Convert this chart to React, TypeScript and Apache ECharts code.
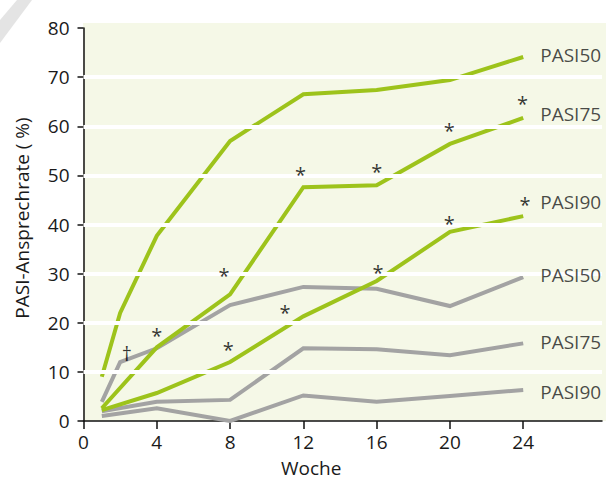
import React, { useEffect, useRef } from "react";
import * as echarts from "echarts";

// ---- data ----
const weekTicks = [0, 4, 8, 12, 16, 20, 24];
const yTicks = [0, 10, 20, 30, 40, 50, 60, 70, 80];
const whiteLines = [10, 20, 30, 40, 50, 60, 70];

const wGreen50 = [1, 2, 4, 8, 12, 16, 20, 24];
const vGreen50 = [9, 22, 37.7, 57, 66.5, 67.4, 69.4, 74.1];

const wGreen75 = [1, 4, 8, 12, 16, 20, 24];
const vGreen75 = [2.6, 15, 25.8, 47.6, 48, 56.4, 61.7];

const wGreen90 = [1, 4, 8, 12, 16, 20, 24];
const vGreen90 = [2.2, 5.7, 12, 21.3, 28.5, 38.5, 41.7];

const wGrey50 = [1, 2, 4, 8, 12, 16, 20, 24];
const vGrey50 = [3.9, 12, 14.8, 23.6, 27.3, 26.9, 23.4, 29.3];

const wGrey75 = [1, 4, 8, 12, 16, 20, 24];
const vGrey75 = [2, 3.9, 4.3, 14.8, 14.6, 13.4, 15.8];

const wGrey90 = [1, 4, 8, 12, 16, 20, 24];
const vGrey90 = [1, 2.6, 0, 5.2, 3.9, 5.1, 6.3];

// significance markers: [week, value, symbol]
const markX = [4.0, 2.36, 7.67, 7.9, 11.0, 11.85, 16.0, 16.07, 19.96, 19.96, 23.96, 24.1];
const markY = [18.3, 14.6, 30.4, 15.3, 22.9, 50.9, 51.7, 31.1, 60.05, 41.1, 65.5, 44.8];
const markT = ["*", "†", "*", "*", "*", "*", "*", "*", "*", "*", "*", "*"];

// series end labels
const labelNames = ["PASI50", "PASI75", "PASI90", "PASI50", "PASI75", "PASI90"];
const labelX = [24.9, 24.9, 24.9, 24.9, 24.9, 24.9];
const labelY = [74.5, 62.5, 44.5, 29.7, 16.0, 6.0];

const GREEN = "#9dc31b";
const GREY = "#a3a3a3";
const BG = "#f5f8e7";
const TXT = "#1a1a1a";
const FONT = "'Open Sans', 'Noto Sans', sans-serif";

const zip = (a: number[], b: number[]) => a.map((x, i) => [x, b[i]]);

export default function App() {
  const ref = useRef<HTMLDivElement>(null);
  useEffect(() => {
    if (!ref.current) return;
    const chart = echarts.init(ref.current, undefined, { renderer: "svg" });
    const gridLeft = 83.5;
    const gridTop = 28;
    const gridRight = 9;
    const gridBottom = 62;

    const lineSeries = (name: string, w: number[], v: number[], color: string) => ({
      type: "line",
      name,
      data: zip(w, v),
      symbol: "none",
      lineStyle: { color, width: 4, cap: "butt", join: "miter" },
      itemStyle: { color },
      silent: true,
      z: color === GREEN ? 4 : 3,
    });

    chart.setOption({
      animation: false,
      textStyle: { fontFamily: FONT },
      graphic: [
        {
          type: "polygon",
          z: -20,
          shape: { points: [[0, 20], [17, 0], [32, 0], [0, 43]] },
          style: { fill: "#e4e4e4" },
        },
        {
          type: "rect",
          z: -10,
          shape: { x: 83, y: 23, width: 523, height: 398 },
          style: { fill: BG },
        },
      ],
      grid: { left: gridLeft, top: gridTop, right: gridRight, bottom: gridBottom },
      xAxis: {
        type: "value",
        min: 0,
        max: 28.3,
        interval: 4,
        name: "Woche",
        nameLocation: "middle",
        nameGap: 37,
        nameTextStyle: { fontSize: 19, color: TXT, fontFamily: FONT, padding: [0, 63, 0, 0] },
        splitLine: { show: false },
        axisLine: { lineStyle: { color: "#111", width: 1.5 } },
        axisTick: { length: 8, customValues: weekTicks, lineStyle: { color: "#111", width: 1.5 } },
        axisLabel: { customValues: weekTicks, fontSize: 19, color: TXT, margin: 11, fontFamily: FONT },
      },
      yAxis: {
        type: "value",
        min: 0,
        max: 80,
        interval: 10,
        name: "PASI-Ansprechrate ( %)",
        nameLocation: "middle",
        nameGap: 52,
        nameTextStyle: { fontSize: 19, color: TXT, fontFamily: FONT, padding: [0, 0, 0, 13] },
        splitLine: { show: false },
        axisLine: { show: true, lineStyle: { color: "#111", width: 1.5 } },
        axisTick: { show: true, length: 6, customValues: yTicks, lineStyle: { color: "#111", width: 1.5 } },
        axisLabel: { customValues: yTicks, fontSize: 19, color: TXT, margin: 14, fontFamily: FONT },
      },
      series: [
        {
          type: "line",
          data: [],
          silent: true,
          z: 1,
          markLine: {
            silent: true,
            symbol: ["none", "none"],
            label: { show: false },
            lineStyle: { color: "#ffffff", width: 4, type: "solid" },
            data: whiteLines.map((y) => ({ yAxis: y })),
          },
        },
        lineSeries("g50", wGreen50, vGreen50, GREEN),
        lineSeries("g75", wGreen75, vGreen75, GREEN),
        lineSeries("g90", wGreen90, vGreen90, GREEN),
        lineSeries("r50", wGrey50, vGrey50, GREY),
        lineSeries("r75", wGrey75, vGrey75, GREY),
        lineSeries("r90", wGrey90, vGrey90, GREY),
        {
          type: "scatter",
          silent: true,
          symbolSize: 1,
          itemStyle: { color: "rgba(0,0,0,0)" },
          z: 6,
          data: markX.map((x, i) => ({ value: [x, markY[i]], name: markT[i] })),
          label: {
            show: true,
            position: "inside",
            formatter: (p: any) => p.name,
            fontSize: 20,
            color: "#000",
            fontFamily: FONT,
            offset: [0, 4],
          },
        },
        {
          type: "scatter",
          silent: true,
          symbolSize: 1,
          itemStyle: { color: "rgba(0,0,0,0)" },
          z: 6,
          data: labelX.map((x, i) => ({ value: [x, labelY[i]], name: labelNames[i] })),
          label: {
            show: true,
            position: "right",
            distance: 0,
            formatter: (p: any) => p.name,
            fontSize: 19,
            color: TXT,
            fontFamily: FONT,
          },
        },
      ],
    });
    return () => chart.dispose();
  }, []);
  return (
    <div
      ref={ref}
      style={{ position: "absolute", left: 0, top: 0, width: 611, height: 483 }}
    />
  );
}
